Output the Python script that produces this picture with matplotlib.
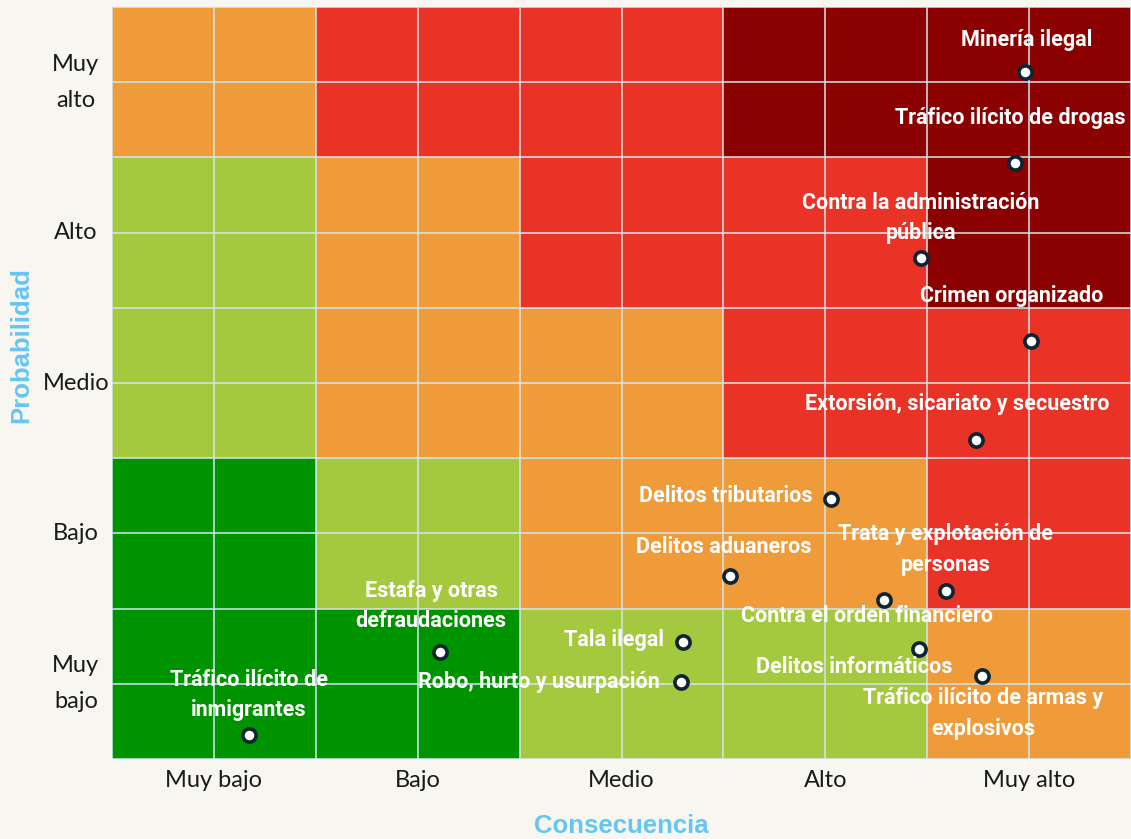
import matplotlib
matplotlib.use("Agg")
import matplotlib.pyplot as plt
import numpy as np
from matplotlib.colors import ListedColormap, BoundaryNorm

# ---------------- data ----------------
consecuencia_labels = ["Muy bajo", "Bajo", "Medio", "Alto", "Muy alto"]
probabilidad_labels = ["Muy\nbajo", "Bajo", "Medio", "Alto", "Muy\nalto"]

# risk level per cell, rows from Probabilidad "Muy bajo" (bottom) to "Muy alto" (top)
risk_matrix = [
    [1, 1, 2, 2, 3],
    [1, 2, 3, 3, 4],
    [2, 3, 3, 4, 4],
    [2, 3, 4, 4, 5],
    [3, 4, 4, 5, 5],
]
risk_colors = ["#009300", "#A5C93E", "#F09B3A", "#E83326", "#8B0000"]

delitos = [
    "Minería ilegal",
    "Tráfico ilícito de drogas",
    "Contra la administración\npública",
    "Crimen organizado",
    "Extorsión, sicariato y secuestro",
    "Delitos tributarios",
    "Delitos aduaneros",
    "Trata y explotación de\npersonas",
    "Contra el orden financiero",
    "Tala ilegal",
    "Delitos informáticos",
    "Robo, hurto y usurpación",
    "Tráfico ilícito de armas y\nexplosivos",
    "Estafa y otras\ndefraudaciones",
    "Tráfico ilícito de\ninmigrantes",
]
consecuencia = [4.48, 4.43, 3.97, 4.51, 4.24, 3.53, 3.03, 4.09, 3.79, 2.80, 3.96, 2.79, 4.27, 1.61, 0.67]
probabilidad = [4.57, 3.96, 3.33, 2.78, 2.12, 1.73, 1.22, 1.12, 1.06, 0.78, 0.73, 0.51, 0.55, 0.71, 0.16]

# label placement (offset in pixels from the point, horizontal alignment)
label_offsets = [
    (2, 32, "center"),
    (-5, 45, "center"),
    (0, 40, "center"),
    (-19, 45, "center"),
    (-19, 36, "center"),
    (-19, 3, "right"),
    (-6, 29, "center"),
    (0, 41, "center"),
    (-17, -16, "center"),
    (-19, 2, "right"),
    (-65, -18, "center"),
    (-21, 0, "right"),
    (1, -37, "center"),
    (-9, 46, "center"),
    (0, 40, "center"),
]

# ---------------- figure ----------------
BG = "#F7F6F1"
fig = plt.figure(figsize=(11.31, 8.39), dpi=100, facecolor=BG)
ax = fig.add_axes([112 / 1131, 1 - 759 / 839, 1 - 112 / 1131, (759 - 7) / 839])
ax.set_facecolor(BG)

cmap = ListedColormap(risk_colors)
norm = BoundaryNorm(np.arange(0.5, 6.5, 1), cmap.N)
ax.pcolormesh(np.arange(6), np.arange(6), np.array(risk_matrix), cmap=cmap, norm=norm,
              shading="flat", zorder=0)

ax.set_xlim(0, 5)
ax.set_ylim(0, 5)

# half-cell grid lines
grid_color = "#D2E7EF"
for v in np.arange(0, 5.01, 0.5):
    ax.axvline(v, color=grid_color, lw=1.1, zorder=1)
    ax.axhline(v, color=grid_color, lw=1.1, zorder=1)

for s in ax.spines.values():
    s.set_visible(False)

ax.set_xticks(np.arange(5) + 0.5)
ax.set_xticklabels(consecuencia_labels, fontsize=17, family="Lato", color="#1A1A1A")
ax.set_yticks(np.arange(5) + 0.5)
ax.set_yticklabels(probabilidad_labels, fontsize=17, family="Lato", color="#1A1A1A",
                   ha="center", va="center", linespacing=1.9)
ax.tick_params(axis="both", length=0)
ax.tick_params(axis="x", pad=8)
ax.tick_params(axis="y", pad=26)

label_color = "#66C6F2"
fig.text(621 / 1131, 1 - 826 / 839, "Consecuencia", ha="center", va="center",
         fontsize=18.5, fontweight="bold", family="Liberation Sans", color=label_color)
fig.text(21 / 1131, 1 - 345 / 839, "Probabilidad", ha="center", va="center", rotation=90,
         fontsize=18.5, fontweight="bold", family="Liberation Sans", color=label_color)

ax.scatter(consecuencia, probabilidad, s=90, facecolor="white", edgecolor="#0E2433",
           linewidth=2.6, zorder=4, clip_on=False)

for name, x, y, (dx, dy, ha) in zip(delitos, consecuencia, probabilidad, label_offsets):
    ax.annotate(name, (x, y), xytext=(dx, dy), textcoords="offset pixels",
                ha=ha, va="center", color="white", fontsize=15.5, fontweight="bold",
                family="Roboto", linespacing=1.5, zorder=5)

fig.savefig("out.png", dpi=100, facecolor=BG)
